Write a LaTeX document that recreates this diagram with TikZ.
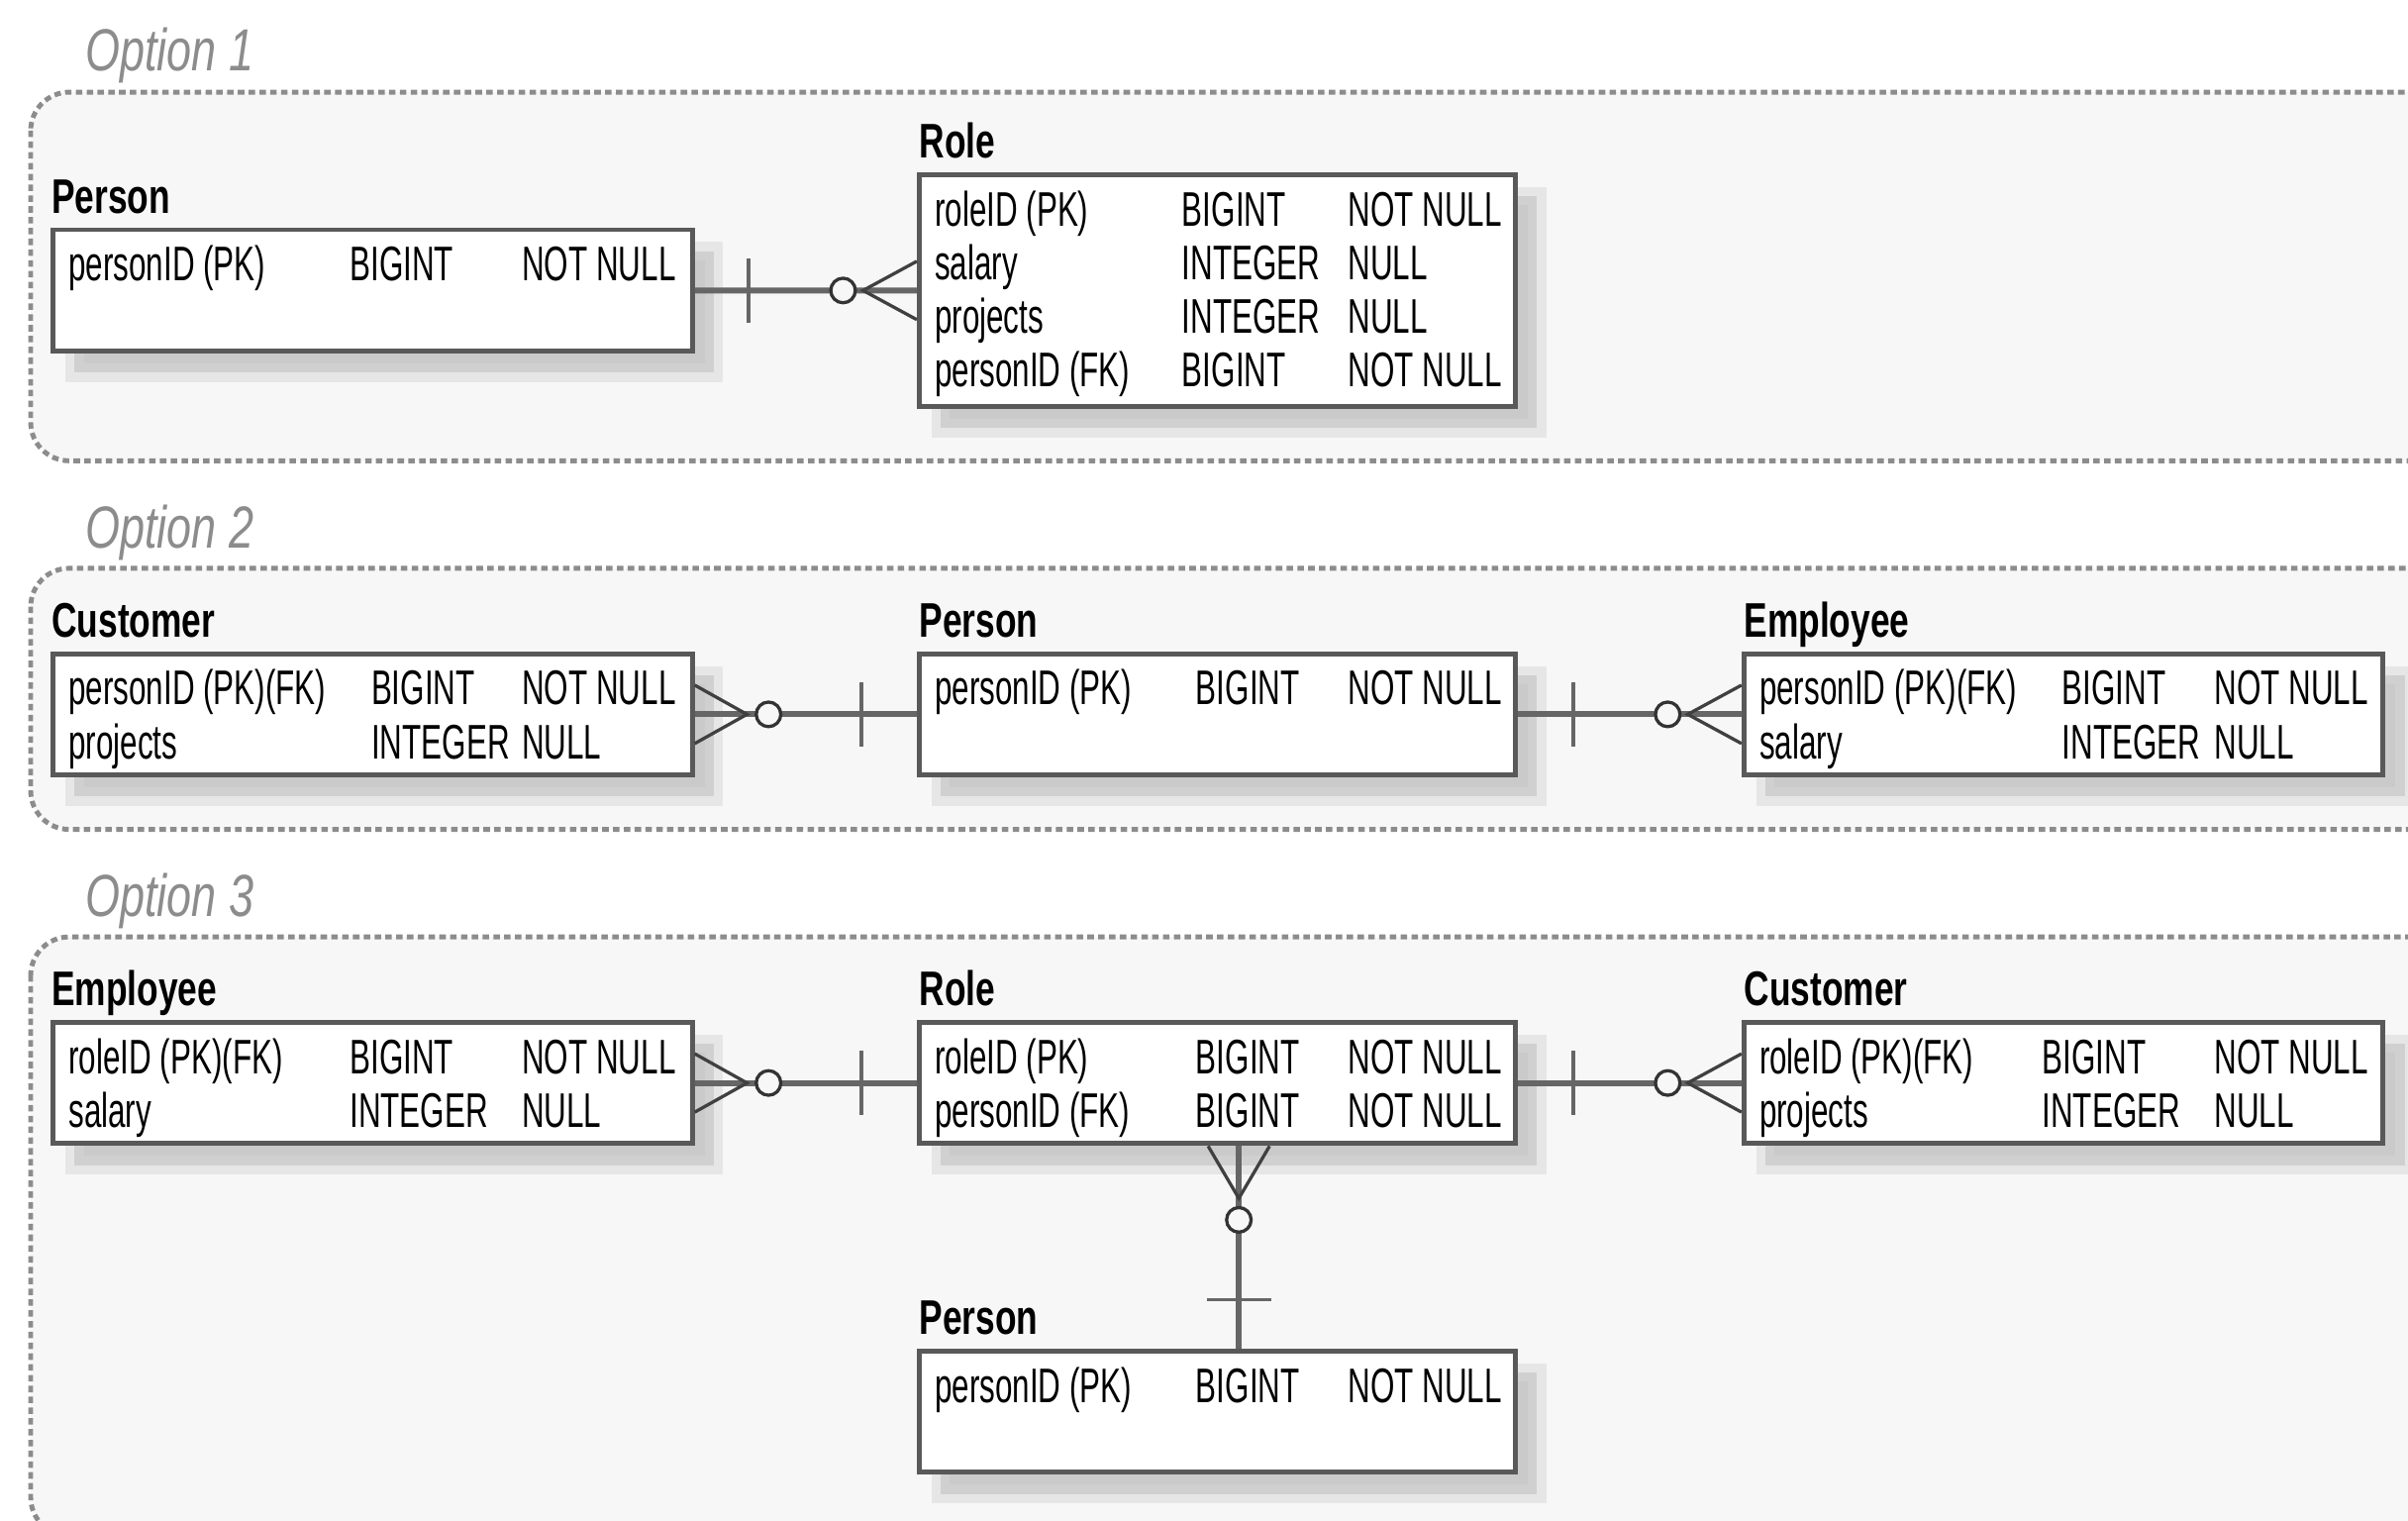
\documentclass[tikz,border=0pt]{standalone}
\usepackage{fontspec}
\setmainfont{Liberation Sans}[FakeStretch=0.64]
\newfontfamily\ttlfont{Liberation Sans}[FakeStretch=0.72]
\newfontfamily\optfont{Liberation Sans}[FakeStretch=0.75]
\usepackage{tikz}
\usetikzlibrary{shadows}
\definecolor{panel}{HTML}{F7F7F7}

\begin{document}
\begin{tikzpicture}[x=0.01cm, y=0.01cm,
    panelbox/.style={draw=black!45, fill=panel, line width=0.9pt, dash pattern=on 1.2pt off 0.8pt, rounded corners=0.25cm},
    optlabel/.style={anchor=base west, inner sep=0pt, text=black!45, font=\optfont\itshape\fontsize{11}{13}\selectfont},
    ttl/.style={anchor=base west, inner sep=0pt, font=\ttlfont\bfseries\fontsize{9}{10}\selectfont},
    tbl/.style={anchor=north west, draw=black!65, line width=0.9pt, fill=white, inner sep=0pt,
      drop shadow={shadow xshift=0.14cm, shadow yshift=-0.14cm, fill=black!38, draw=black!16, line width=0.12cm}},
    fields/.style={anchor=base west, inner sep=0pt, font=\fontsize{9}{9.96}\selectfont},
    rel/.style={draw=black!60, line width=1.1pt},
    bar/.style={draw=black!60, line width=0.6pt},
    foot/.style={draw=black!75, line width=0.6pt},
    zero/.style={circle, draw=black!80, line width=0.6pt, fill=panel, inner sep=0pt, minimum size=0.16cm}]
      \useasboundingbox (0,0) rectangle (1568,-990);
      % option 1
      \draw[panelbox] (20,-60) rectangle (1640,-300);
      \node (opt1) at (55,-46) [optlabel] {Option 1};
      \node (per1t) at (33,-139) [ttl] {Person};
      \node (per1) at (33,-148) [tbl, minimum width=4.16cm, minimum height=0.79cm] {};
      \node (per1f) at (44,-183) [fields] {\begin{tabular}[t]{@{}p{1.83cm}@{}p{1.12cm}@{}l@{}}
        personID (PK) & BIGINT & NOT NULL\end{tabular}};
      \node (role1t) at (598,-103) [ttl] {Role};
      \node (role1) at (597,-112) [tbl, minimum width=3.88cm, minimum height=1.51cm] {};
      \node (role1f) at (608,-147) [fields] {\begin{tabular}[t]{@{}p{1.61cm}@{}p{1.08cm}@{}l@{}}
        roleID (PK) & BIGINT & NOT NULL\\
        salary & INTEGER & NULL\\
        projects & INTEGER & NULL\\
        personID (FK) & BIGINT & NOT NULL\end{tabular}};
      \draw[rel] (per1) -- (role1);
      \draw[bar] ([xshift=0.35cm]per1.east) ++(0,21) -- ++(0,-42);
      \draw[foot] ([yshift=0.19cm]role1.west) -- ++(-35,-19) -- ++(35,-19);
      \node (o1) at ([xshift=-0.48cm]role1.west) [zero] {};
      % option 2
      \draw[panelbox] (20,-370) rectangle (1640,-540);
      \node (opt2) at (55,-357) [optlabel] {Option 2};
      \node (cust2t) at (33,-415) [ttl] {Customer};
      \node (cust2) at (33,-424) [tbl, minimum width=4.16cm, minimum height=0.79cm] {};
      \node (cust2f) at (44,-459) [fields] {\begin{tabular}[t]{@{}p{1.97cm}@{}p{0.98cm}@{}l@{}}
        personID (PK)(FK) & BIGINT & NOT NULL\\
        projects & INTEGER & NULL\end{tabular}};
      \node (pers2t) at (598,-415) [ttl] {Person};
      \node (pers2) at (597,-424) [tbl, minimum width=3.88cm, minimum height=0.79cm] {};
      \node (pers2f) at (608,-459) [fields] {\begin{tabular}[t]{@{}p{1.70cm}@{}p{0.99cm}@{}l@{}}
        personID (PK) & BIGINT & NOT NULL\end{tabular}};
      \node (emp2t) at (1135,-415) [ttl] {Employee};
      \node (emp2) at (1134,-424) [tbl, minimum width=4.16cm, minimum height=0.79cm] {};
      \node (emp2f) at (1145,-459) [fields] {\begin{tabular}[t]{@{}p{1.97cm}@{}p{0.99cm}@{}l@{}}
        personID (PK)(FK) & BIGINT & NOT NULL\\
        salary & INTEGER & NULL\end{tabular}};
      \draw[rel] (cust2) -- (pers2);
      \draw[foot] ([yshift=0.19cm]cust2.east) -- ++(34,-19) -- ++(-34,-19);
      \node (o2) at ([xshift=0.48cm]cust2.east) [zero] {};
      \draw[bar] ([xshift=-0.36cm]pers2.west) ++(0,21) -- ++(0,-42);
      \draw[rel] (pers2) -- (emp2);
      \draw[bar] ([xshift=0.36cm]pers2.east) ++(0,21) -- ++(0,-42);
      \draw[foot] ([yshift=0.19cm]emp2.west) -- ++(-35,-19) -- ++(35,-19);
      \node (o3) at ([xshift=-0.48cm]emp2.west) [zero] {};
      % option 3
      \draw[panelbox] (20,-610) rectangle (1640,-1000);
      \node (opt3) at (55,-597) [optlabel] {Option 3};
      \node (emp3t) at (33,-655) [ttl] {Employee};
      \node (emp3) at (33,-664) [tbl, minimum width=4.16cm, minimum height=0.79cm] {};
      \node (emp3f) at (44,-699) [fields] {\begin{tabular}[t]{@{}p{1.83cm}@{}p{1.12cm}@{}l@{}}
        roleID (PK)(FK) & BIGINT & NOT NULL\\
        salary & INTEGER & NULL\end{tabular}};
      \node (role3t) at (598,-655) [ttl] {Role};
      \node (role3) at (597,-664) [tbl, minimum width=3.88cm, minimum height=0.79cm] {};
      \node (role3f) at (608,-699) [fields] {\begin{tabular}[t]{@{}p{1.70cm}@{}p{0.99cm}@{}l@{}}
        roleID (PK) & BIGINT & NOT NULL\\
        personID (FK) & BIGINT & NOT NULL\end{tabular}};
      \node (cust3t) at (1135,-655) [ttl] {Customer};
      \node (cust3) at (1134,-664) [tbl, minimum width=4.16cm, minimum height=0.79cm] {};
      \node (cust3f) at (1145,-699) [fields] {\begin{tabular}[t]{@{}p{1.84cm}@{}p{1.12cm}@{}l@{}}
        roleID (PK)(FK) & BIGINT & NOT NULL\\
        projects & INTEGER & NULL\end{tabular}};
      \node (pers3t) at (598,-869) [ttl] {Person};
      \node (pers3) at (597,-878) [tbl, minimum width=3.88cm, minimum height=0.79cm] {};
      \node (pers3f) at (608,-913) [fields] {\begin{tabular}[t]{@{}p{1.70cm}@{}p{0.99cm}@{}l@{}}
        personID (PK) & BIGINT & NOT NULL\end{tabular}};
      \draw[rel] (emp3) -- (role3);
      \draw[foot] ([yshift=0.19cm]emp3.east) -- ++(34,-19) -- ++(-34,-19);
      \node (o4) at ([xshift=0.48cm]emp3.east) [zero] {};
      \draw[bar] ([xshift=-0.36cm]role3.west) ++(0,21) -- ++(0,-42);
      \draw[rel] (role3) -- (cust3);
      \draw[bar] ([xshift=0.36cm]role3.east) ++(0,21) -- ++(0,-42);
      \draw[foot] ([yshift=0.19cm]cust3.west) -- ++(-35,-19) -- ++(35,-19);
      \node (o5) at ([xshift=-0.48cm]cust3.west) [zero] {};
      \draw[rel] ([xshift=0.14cm]role3.south) -- ([xshift=0.14cm]pers3.north);
      \draw[foot] ([xshift=-0.06cm]role3.south) -- ++(20,-34) -- ++(20,34);
      \node (o6) at ([xshift=0.14cm,yshift=-0.48cm]role3.south) [zero] {};
      \draw[bar] ([xshift=0.14cm,yshift=0.32cm]pers3.north) ++(-21,0) -- ++(42,0);
    \end{tikzpicture}
\end{document}
